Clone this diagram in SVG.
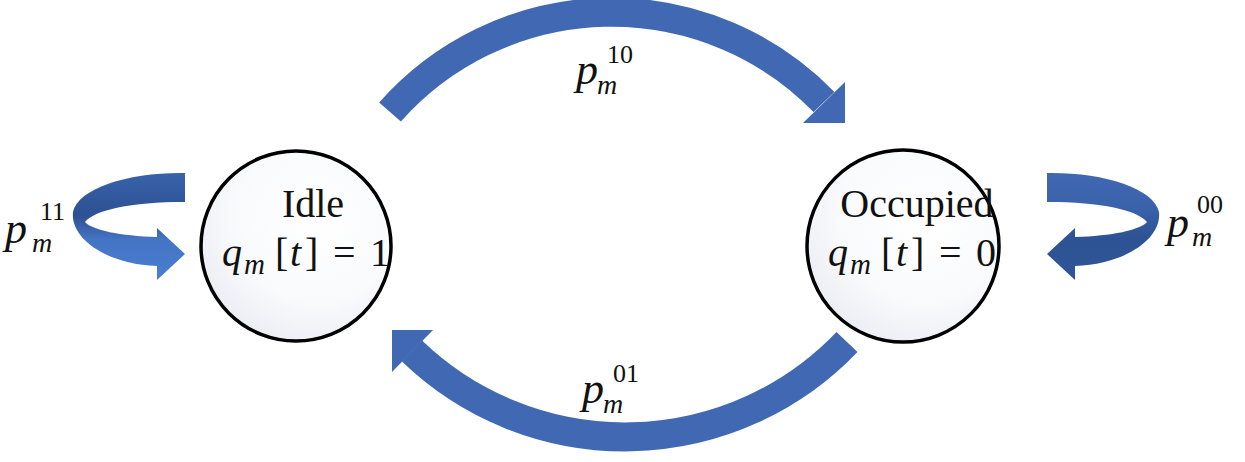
<svg xmlns="http://www.w3.org/2000/svg" width="1245" height="462" viewBox="0 0 1245 462">
<style>
.shaft{fill:none;stroke:#4068B3;stroke-width:29;stroke-linecap:butt}
.head{fill:#4068B3}
.node{stroke:#000;stroke-width:3.5}
.name{font-family:"Liberation Serif","Times New Roman",serif;font-size:40px;fill:#111}
.math{font-family:"Liberation Serif","Times New Roman",serif;fill:#111}
.it{font-style:italic}
</style>
<defs>
<radialGradient id="nodeFill" cx="0.62" cy="0.35" r="0.75">
<stop offset="0" stop-color="#FFFFFF"/>
<stop offset="0.6" stop-color="#F9FAFC"/>
<stop offset="1" stop-color="#E8EBF2"/>
</radialGradient>
<linearGradient id="loopL" gradientUnits="userSpaceOnUse" x1="0" y1="173" x2="0" y2="280">
<stop offset="0" stop-color="#3862AB"/>
<stop offset="0.4" stop-color="#2D5192"/>
<stop offset="0.62" stop-color="#4474C3"/>
<stop offset="1" stop-color="#4B7ED2"/>
</linearGradient>
<linearGradient id="loopR" gradientUnits="userSpaceOnUse" x1="0" y1="173" x2="0" y2="280">
<stop offset="0" stop-color="#4068B2"/>
<stop offset="0.3" stop-color="#3A63AC"/>
<stop offset="0.6" stop-color="#2E5394"/>
<stop offset="1" stop-color="#2F5597"/>
</linearGradient>
</defs>
<g id="connectors">
<g id="edge-idle-occupied">
<path class="shaft" d="M390,112 A296,296 0 0 1 824,102"/>
<polygon class="head" points="845,82 845,123 803,123"/>
</g>
<g id="edge-occupied-idle">
<path class="shaft" d="M847,342 A307,307 0 0 1 412,351"/>
<polygon class="head" points="392,330 433,330 392,372"/>
</g>
<g id="loop-idle">
<path fill="url(#loopL)" d="M185,173 C130,172 78,188 73,212 C70,238 105,264 157,266 L157,280 L185,254 L157,228 L157,237 C120,236 92,230 85,222 C95,210 130,202 185,202 Z"/>
</g>
<g id="loop-occupied">
<path fill="url(#loopR)" transform="translate(1232,0) scale(-1,1)" d="M185,173 C130,172 78,188 73,212 C70,238 105,264 157,266 L157,280 L185,254 L157,228 L157,237 C120,236 92,230 85,222 C95,210 130,202 185,202 Z"/>
</g>
</g>
<g id="node-idle">
<circle class="node" cx="296" cy="246" r="95" fill="url(#nodeFill)"/>
<text class="name" x="313" y="217" text-anchor="middle">Idle</text>
<text class="math" font-size="40"><tspan class="it" x="222" y="266">q</tspan><tspan class="it" x="244" y="274" font-size="29">m</tspan><tspan x="275" y="266">[</tspan><tspan class="it" x="290" y="266">t</tspan><tspan x="305" y="266">]</tspan><tspan x="333" y="266">=</tspan><tspan x="370" y="266">1</tspan></text>
</g>
<g id="node-occupied">
<circle class="node" cx="903" cy="246" r="96" fill="url(#nodeFill)"/>
<text class="name" x="917" y="217" text-anchor="middle">Occupied</text>
<text class="math" font-size="40"><tspan class="it" x="828" y="266">q</tspan><tspan class="it" x="850" y="274" font-size="29">m</tspan><tspan x="881" y="266">[</tspan><tspan class="it" x="896" y="266">t</tspan><tspan x="911" y="266">]</tspan><tspan x="939" y="266">=</tspan><tspan x="976" y="266">0</tspan></text>
</g>
<g id="labels">
<text id="label-p10" class="math" font-size="44"><tspan class="it" x="576" y="84">p</tspan><tspan x="607" y="63" font-size="26">10</tspan><tspan class="it" x="597" y="94" font-size="28">m</tspan></text>
<text id="label-p01" class="math" font-size="44"><tspan class="it" x="582" y="403">p</tspan><tspan x="613" y="382" font-size="26">01</tspan><tspan class="it" x="603" y="413" font-size="28">m</tspan></text>
<text id="label-p11" class="math" font-size="44"><tspan class="it" x="5" y="243">p</tspan><tspan x="40" y="220" font-size="26">11</tspan><tspan class="it" x="32" y="252" font-size="28">m</tspan></text>
<text id="label-p00" class="math" font-size="44"><tspan class="it" x="1167" y="237">p</tspan><tspan x="1197" y="213" font-size="26">00</tspan><tspan class="it" x="1192" y="246" font-size="28">m</tspan></text>
</g>
</svg>
